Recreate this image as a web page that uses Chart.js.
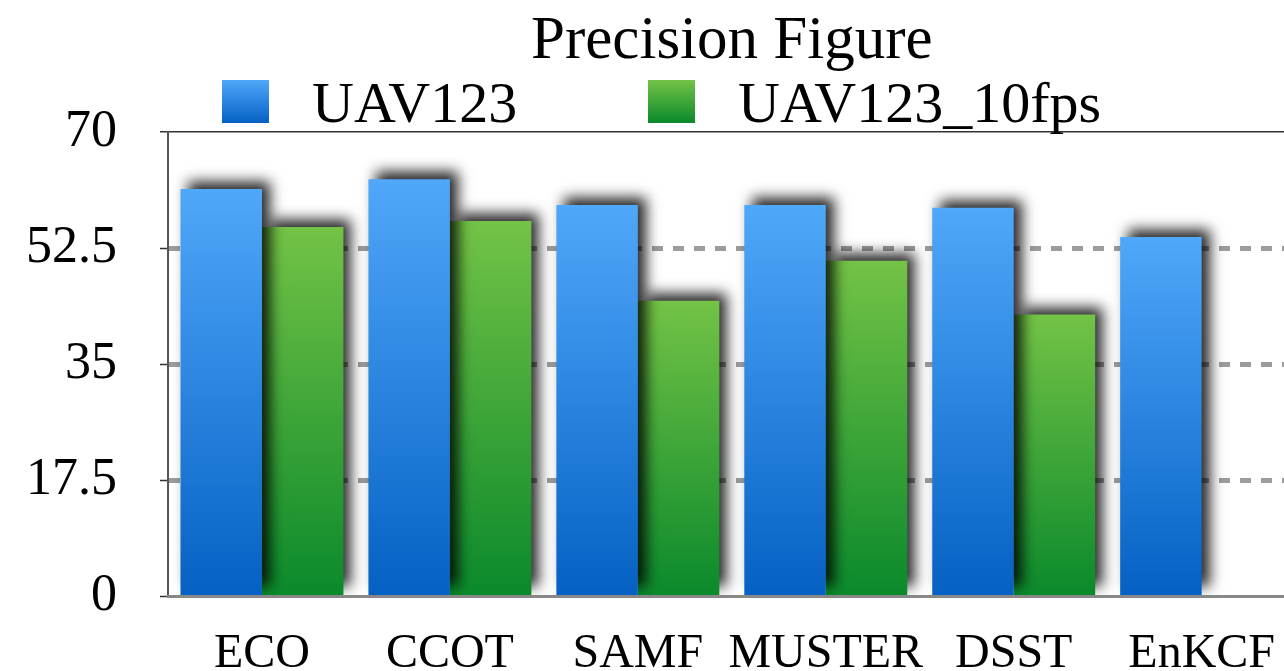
<!DOCTYPE html>
<html>
<head>
<meta charset="utf-8">
<title>Precision Figure</title>
<script src="https://cdn.jsdelivr.net/npm/chart.js@4"></script>
<style>
  html, body { margin: 0; padding: 0; background: #fff; overflow: hidden; }
  canvas { display: block; }
</style>
</head>
<body>
<canvas id="chart" width="1304" height="671"></canvas>
<script>
// Trackers compared on the two benchmark variants
const trackers = ['ECO', 'CCOT', 'SAMF', 'MUSTER', 'DSST', 'EnKCF'];
const uav123 = [61.4, 62.9, 59.0, 59.0, 58.6, 54.2];
const uav123_10fps = [55.7, 56.6, 44.6, 50.6, 42.5, null];
const yTicks = [0, 17.5, 35, 52.5, 70];
const seriesNames = ['UAV123', 'UAV123_10fps'];
const titleText = 'Precision Figure';

const SERIF = '"Liberation Serif", "Times New Roman", Times, serif';
const BLUE = ['#50a8fa', '#0560c3'];
const GREEN = ['#73c346', '#0a892b'];

// Vertical gradient running from the top of each bar down to the baseline
function barGradient(stops) {
  return (c) => {
    const chart = c.chart;
    const y = chart.scales.y;
    if (!chart.chartArea || !y || c.raw == null) return stops[1];
    const top = y.getPixelForValue(c.raw);
    const bottom = y.getPixelForValue(0);
    const g = chart.ctx.createLinearGradient(0, top, 0, bottom);
    g.addColorStop(0, stops[0]);
    g.addColorStop(1, stops[1]);
    return g;
  };
}

// Soft drop shadow behind the bars
const barShadow = {
  id: 'barShadow',
  beforeDatasetDraw(chart) {
    const ctx = chart.ctx;
    ctx.save();
    ctx.shadowColor = 'rgba(0,0,0,0.85)';
    ctx.shadowBlur = 13;
    ctx.shadowOffsetX = 8;
    ctx.shadowOffsetY = -8;
  },
  afterDatasetDraw(chart) {
    chart.ctx.restore();
  }
};

// Title and legend row above the plot
const header = {
  id: 'header',
  beforeDraw(chart) {
    const ctx = chart.ctx;
    ctx.save();
    ctx.fillStyle = '#fff';
    ctx.fillRect(0, 0, chart.width, chart.height);
    ctx.restore();
  },
  afterDraw(chart) {
    const ctx = chart.ctx;
    const area = chart.chartArea;
    ctx.save();
    ctx.fillStyle = '#000';
    ctx.textBaseline = 'alphabetic';
    ctx.textAlign = 'center';
    ctx.font = '61px ' + SERIF;
    ctx.fillText(titleText, (area.left + area.right) / 2, 58);

    const items = [
      { text: seriesNames[0], stops: BLUE, x: 222 },
      { text: seriesNames[1], stops: GREEN, x: 648 }
    ];
    const boxTop = 80, boxW = 47, boxH = 43;
    ctx.font = '58px ' + SERIF;
    ctx.textAlign = 'left';
    items.forEach((it) => {
      const g = ctx.createLinearGradient(0, boxTop, 0, boxTop + boxH);
      g.addColorStop(0, it.stops[0]);
      g.addColorStop(1, it.stops[1]);
      ctx.fillStyle = g;
      ctx.fillRect(it.x, boxTop, boxW, boxH);
      ctx.fillStyle = '#000';
      ctx.fillText(it.text, it.x + boxW + 43, 122);
    });
    ctx.restore();
  }
};

new Chart(document.getElementById('chart'), {
  type: 'bar',
  data: {
    labels: trackers,
    datasets: [
      { label: seriesNames[0], data: uav123, backgroundColor: barGradient(BLUE), borderWidth: 0 },
      { label: seriesNames[1], data: uav123_10fps, backgroundColor: barGradient(GREEN), borderWidth: 0 }
    ]
  },
  options: {
    responsive: false,
    maintainAspectRatio: false,
    devicePixelRatio: 1,
    animation: false,
    events: [],
    categoryPercentage: 0.867,
    barPercentage: 1.0,
    layout: { padding: { top: 132, left: 0, right: 0, bottom: 0 } },
    plugins: {
      legend: { display: false },
      title: { display: false },
      tooltip: { enabled: false }
    },
    scales: {
      x: {
        grid: { display: false, drawTicks: false },
        border: { display: true, color: '#888', width: 3, z: 1 },
        ticks: {
          color: '#000',
          font: { family: SERIF, size: 48 },
          padding: 29,
          maxRotation: 0,
          autoSkip: false
        },
        afterFit(scale) { scale.height = 73; }
      },
      y: {
        min: 0,
        max: 70,
        afterBuildTicks(scale) {
          scale.ticks = yTicks.map((v) => ({ value: v }));
        },
        afterFit(scale) { scale.width = 168; },
        ticks: {
          color: '#000',
          font: { family: SERIF, size: 52 },
          padding: 43,
          callback: (v) => String(v)
        },
        grid: {
          color: (c) => {
            const v = c.tick ? c.tick.value : null;
            if (v === 70) return '#333';
            if (v === 0) return '#888';
            return '#9c9c9c';
          },
          lineWidth: (c) => {
            const v = c.tick ? c.tick.value : null;
            if (v === 70) return 1.5;
            if (v === 0) return 3;
            return 5;
          },
          tickColor: '#333',
          tickWidth: 1.5,
          tickLength: 8,
          tickBorderDash: []
        },
        border: {
          display: true,
          color: '#555',
          width: 2,
          dash: (c) => {
            const v = c.tick ? c.tick.value : null;
            return (v !== null && v > 0 && v < 70) ? [11, 10] : [];
          }
        }
      }
    }
  },
  plugins: [barShadow, header]
});
</script>
</body>
</html>
